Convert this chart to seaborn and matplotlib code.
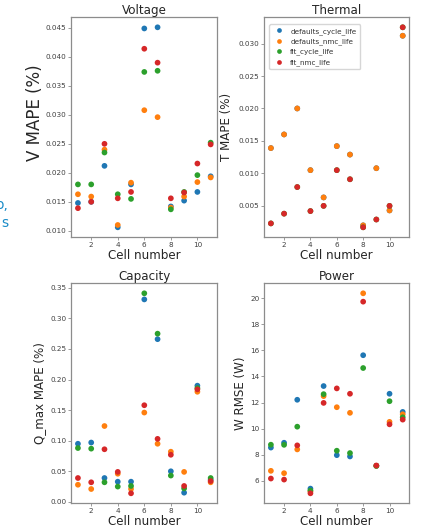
import numpy as np
import pandas as pd
import seaborn as sns
import matplotlib
matplotlib.use("Agg")
import matplotlib.pyplot as plt

cells = list(range(1, 12))
models = ["defaults_cycle_life", "defaults_nmc_life", "fit_cycle_life", "fit_nmc_life"]

# Voltage MAPE (%)
v_defaults_cycle = [0.0148, 0.0150, 0.0212, 0.0106, 0.0180, 0.0449, 0.0451, 0.0142, 0.0152, 0.0167, 0.0194]
v_defaults_nmc = [0.0163, 0.0159, 0.0240, 0.0110, 0.0183, 0.0308, 0.0296, 0.0140, 0.0159, 0.0184, 0.0192]
v_fit_cycle = [0.0180, 0.0180, 0.0235, 0.0163, 0.0155, 0.0374, 0.0376, 0.0137, 0.0167, 0.0196, 0.0252]
v_fit_nmc = [0.0139, 0.0150, 0.0250, 0.0156, 0.0167, 0.0414, 0.0390, 0.0156, 0.0166, 0.0216, 0.0249]

# Thermal MAPE (%)
t_defaults_cycle = [0.0139, 0.0160, 0.0200, 0.0105, 0.0063, 0.0142, 0.0129, 0.0020, 0.0108, 0.0043, 0.0312]
t_defaults_nmc = [0.0139, 0.0160, 0.0200, 0.0105, 0.0063, 0.0142, 0.0129, 0.0020, 0.0108, 0.0043, 0.0312]
t_fit_cycle = [0.0023, 0.0038, 0.0079, 0.0042, 0.0050, 0.0105, 0.0091, 0.0017, 0.0029, 0.0050, 0.0325]
t_fit_nmc = [0.0023, 0.0038, 0.0079, 0.0042, 0.0050, 0.0105, 0.0091, 0.0017, 0.0029, 0.0050, 0.0325]

# Capacity MAPE (%)
q_defaults_cycle = [0.095, 0.097, 0.039, 0.033, 0.033, 0.331, 0.266, 0.050, 0.015, 0.190, 0.036]
q_defaults_nmc = [0.028, 0.021, 0.124, 0.046, 0.021, 0.146, 0.095, 0.082, 0.049, 0.180, 0.032]
q_fit_cycle = [0.088, 0.087, 0.032, 0.025, 0.026, 0.341, 0.275, 0.043, 0.022, 0.186, 0.039]
q_fit_nmc = [0.039, 0.032, 0.086, 0.049, 0.014, 0.158, 0.103, 0.077, 0.026, 0.184, 0.034]

# Power RMSE (W)
w_defaults_cycle = [8.55, 8.92, 12.21, 5.41, 13.26, 7.97, 7.87, 15.62, 7.15, 12.67, 11.28]
w_defaults_nmc = [6.77, 6.59, 8.41, 5.20, 12.49, 11.64, 11.21, 20.36, 7.15, 10.52, 11.10]
w_fit_cycle = [8.77, 8.76, 10.15, 5.26, 12.64, 8.31, 8.13, 14.64, 7.15, 12.10, 10.87]
w_fit_nmc = [6.18, 6.10, 8.72, 5.05, 11.97, 13.08, 12.67, 19.72, 7.18, 10.33, 10.69]

rows = []
for m, v, t, q, w in zip(models,
                         [v_defaults_cycle, v_defaults_nmc, v_fit_cycle, v_fit_nmc],
                         [t_defaults_cycle, t_defaults_nmc, t_fit_cycle, t_fit_nmc],
                         [q_defaults_cycle, q_defaults_nmc, q_fit_cycle, q_fit_nmc],
                         [w_defaults_cycle, w_defaults_nmc, w_fit_cycle, w_fit_nmc]):
    for i, c in enumerate(cells):
        rows.append({"cell": c, "model": m, "V": v[i], "T": t[i], "Q": q[i], "W": w[i]})
df = pd.DataFrame(rows)

sns.set_style("white", {"axes.edgecolor": "0.55", "xtick.color": "0.55", "ytick.color": "0.55",
                        "xtick.bottom": True, "ytick.left": True})
plt.rcParams["font.family"] = ["DejaVu Sans"]
plt.rcParams["xtick.labelcolor"] = "0.25"
plt.rcParams["ytick.labelcolor"] = "0.25"

palette = dict(zip(models, sns.color_palette("tab10", 4)))

fig = plt.figure(figsize=(4.29, 5.28), dpi=100)
W, H = 429, 528
def place(x0, y0, x1, y1):
    return fig.add_axes([x0 / W, 1 - y1 / H, (x1 - x0) / W, (y1 - y0) / H])

panels = [
    (place(71.3, 17.3, 217.3, 237.3), "V", "Voltage", "V MAPE (%)", 12),
    (place(264.3, 17.3, 409.3, 237.3), "T", "Thermal", "T MAPE (%)", 8.6),
    (place(71.3, 283.3, 217.3, 503.3), "Q", "Capacity", "Q_max MAPE (%)", 8.6),
    (place(264.3, 283.3, 409.3, 503.3), "W", "Power", "W RMSE (W)", 8.6),
]

for ax, col, title, ylabel, yfs in panels:
    sns.scatterplot(data=df, x="cell", y=col, hue="model", palette=palette, s=17,
                    linewidth=0, ax=ax, legend=False)
    ax.set_title(title, fontsize=8.6, pad=2)
    ax.set_xlabel("Cell number", fontsize=8.6, labelpad=0.5)
    ax.set_ylabel(ylabel, fontsize=yfs, labelpad=3)
    ax.set_xticks([2, 4, 6, 8, 10])
    ax.tick_params(labelsize=5.2, length=2, width=0.6, pad=1.5)
    for s in ax.spines.values():
        s.set_linewidth(0.9)

# the voltage label sits a little above the middle in the reference
panels[0][0].yaxis.set_label_coords(-0.19, 0.565)
panels[3][0].set_ylabel("W RMSE (W)", fontsize=8.6, labelpad=2)
panels[1][0].set_ylabel("T MAPE (%)", fontsize=8.6, labelpad=4)

# legend in the thermal panel
ax_t = panels[1][0]
handles = [plt.Line2D([], [], marker="o", linestyle="", markersize=3.4,
                      markerfacecolor=palette[m], markeredgewidth=0) for m in models]
leg = ax_t.legend(handles, models, loc="upper left", bbox_to_anchor=(0.01, 0.985),
                  fontsize=5.2, labelspacing=0.5, handletextpad=0.8, borderpad=0.5,
                  handlelength=1.6, frameon=True)
plt.setp(leg.get_texts(), color="0.2")

# partially visible text cut at the left edge
fig.text(8 / W, 1 - 205 / H, "o,", color="#1a8cc8", fontsize=10, ha="right", va="center")
fig.text(8 / W, 1 - 223 / H, "s", color="#1a8cc8", fontsize=10, ha="right", va="center")

plt.savefig("out.png", dpi=100)
plt.close()
